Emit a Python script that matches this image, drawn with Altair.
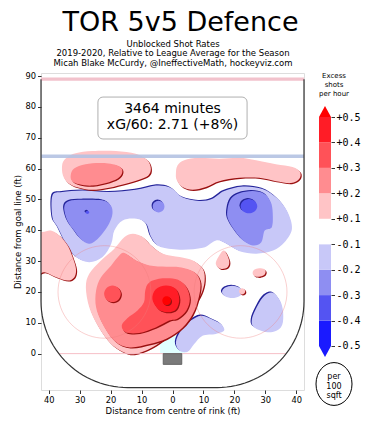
import json
import numpy as np
import pandas as pd
import altair as alt

FONT = "DejaVu Sans"
MONO = "DejaVu Sans Mono"

# ---------------- text ----------------
title_text = "TOR 5v5 Defence"
subtitle_lines = [
    "Unblocked Shot Rates",
    "2019-2020, Relative to League Average for the Season",
    "Micah Blake McCurdy, @IneffectiveMath, hockeyviz.com",
]
toi_minutes = 3464
xg_per_60 = 2.71
xg_rel_pct = 8
box_lines = [f"{toi_minutes} minutes", f"xG/60: {xg_per_60:.2f} (+{xg_rel_pct}%)"]
cbar_title = ["Excess", "shots", "per hour"]
area_note = ["per", "100", "sqft"]
x_title = "Distance from centre of rink (ft)"
y_title = "Distance from goal line (ft)"

# ---------------- levels / colours ----------------
levels = [-4, -3, -2, -1, 1, 2, 3, 4, 5]
level_colors = ["#1a1aff", "#5454f2", "#8e8ef2", "#c8c8f8",
                "#ffc4c6", "#ff8c90", "#ff5258", "#ff1c26", "#ff0000"]
cbar_labels = ["-0.5", "-0.4", "-0.3", "-0.2", "-0.1",
               "+0.1", "+0.2", "+0.3", "+0.4", "+0.5"]
cbar_colors = ["#1a1aff", "#5454f2", "#8e8ef2", "#c8c8f8", "#ffffff",
               "#ffc4c6", "#ff8c90", "#ff5258", "#ff1c26"]

# ---------------- contour regions (ft) ----------------
red_tl1_x = [-35.6, -34.0, -31.3, -25.9, -18.3, -11.9, -8.1, -7.0, -7.8, -10.8, -15.1, -20.5, -25.9, -30.2, -33.4, -35.4]
red_tl1_y = [61.6, 63.7, 65.0, 65.7, 65.7, 64.8, 62.7, 60.0, 57.8, 56.4, 55.1, 53.8, 53.1, 53.8, 55.1, 57.8]

red_tl2_x = [-32.9, -31.8, -28.1, -22.7, -17.8, -16.2, -17.2, -20.5, -25.9, -30.2, -32.4]
red_tl2_y = [57.8, 60.0, 61.4, 61.8, 61.0, 59.4, 57.2, 55.6, 54.5, 54.9, 55.9]

red_tr1_x = [1.1, 1.6, 3.8, 8.6, 15.1, 21.6, 27.0, 33.4, 38.8, 41.2, 41.0, 38.3, 33.4, 28.0, 21.6, 15.1, 10.8, 6.5, 3.2, 1.4]
red_tr1_y = [58.3, 61.0, 62.7, 63.5, 63.2, 63.5, 62.7, 61.4, 60.5, 58.9, 56.7, 55.3, 55.9, 57.0, 57.0, 55.9, 54.0, 53.1, 54.0, 56.2]

blue_top1_x = [-38.8, -35.6, -29.1, -20.5, -11.9, -5.4, -0.6, 3.2, 8.6, 12.9, 16.7, 22.7, 29.1, 34.0, 37.2, 38.6,
               36.2, 32.5, 27.1, 21.7, 17.4, 14.1, 9.8, 2.3, -4.2, -6.9, -8.5, -11.7, -16.1, -18.8, -19.8, -22.6,
               -26.9, -31.2, -34.4, -37.1, -38.8]
blue_top1_y = [51.3, 52.4, 52.9, 52.4, 53.1, 54.5, 53.8, 50.7, 49.5, 50.2, 52.7, 54.2, 53.4, 50.2, 45.9, 40.5,
               36.1, 33.4, 32.4, 33.2, 35.6, 36.7, 34.3, 33.7, 34.7, 37.8, 42.1, 43.7, 43.2, 39.9, 35.6, 31.3,
               29.6, 31.3, 35.6, 41.0, 44.2]

blue_left2_x = [-35.0, -33.4, -29.1, -22.7, -20.0, -19.4, -20.5, -22.7, -24.8, -27.0, -29.7, -31.8, -34.0]
blue_left2_y = [47.5, 49.5, 49.9, 49.7, 48.1, 45.4, 42.1, 38.9, 36.7, 35.6, 37.2, 39.9, 43.2]

blue_mid2_x = [-4.5, -3.1, -2.6, -3.1, -4.5, -5.9, -6.4, -5.9]
blue_mid2_y = [49.6, 49.0, 47.7, 46.4, 45.8, 46.4, 47.7, 49.0]

blue_right2_x = [17.8, 18.9, 21.6, 25.9, 29.7, 31.8, 32.4, 32.1, 29.8, 28.7, 26.0, 22.8, 20.1, 17.9]
blue_right2_y = [47.0, 50.2, 52.0, 52.7, 51.8, 49.1, 45.4, 41.0, 39.9, 36.1, 35.1, 36.7, 39.9, 43.7]

blue_right3_x = [24.7, 26.6, 27.4, 26.6, 24.7, 22.8, 22.0, 22.8]
blue_right3_y = [50.1, 49.4, 47.8, 46.2, 45.5, 46.2, 47.8, 49.4]

blue_left3_x = [-27.5, -26.9, -27.5, -28.1]
blue_left3_y = [46.3, 45.8, 45.3, 45.8]

red_edge1_x = [-45.0, -42.0, -39.3, -36.6, -33.9, -32.3, -31.2, -31.7, -33.9, -37.6, -41.4, -45.0]
red_edge1_y = [39.4, 39.4, 39.9, 38.3, 35.1, 31.3, 27.5, 24.8, 23.7, 24.8, 26.4, 26.0]

red_slot1_x = [-12.8, -9.6, -6.9, -3.1, 2.3, 6.6, 9.8, 10.4, 9.3, 6.6, 3.3, 0.5, -3.5, -7.5, -12.5, -16.5,
               -20.4, -24.2, -26.9, -28.0, -26.9, -23.1, -18.8, -15.5]
red_slot1_y = [38.9, 37.8, 35.1, 32.4, 31.3, 30.2, 27.5, 23.7, 19.4, 15.0, 10.7, 7.5, 4.0, 1.5, -0.2, 0.8,
               3.7, 9.1, 15.0, 21.5, 25.9, 30.2, 34.0, 37.8]

red_slot2_x = [-15.5, -11.7, -7.4, -2.0, 2.3, 7.1, 9.0, 8.5, 6.6, 3.3, -2.0, -7.4, -13.9, -18.8, -22.6, -24.7,
               -24.7, -23.1, -19.8, -17.2]
red_slot2_y = [32.6, 30.2, 28.6, 28.2, 28.0, 26.4, 23.1, 18.3, 12.9, 8.5, 4.8, 3.1, 2.0, 4.2, 9.6, 15.0,
               20.5, 24.8, 28.6, 31.8]

red_slot3_x = [-7.5, -3.2, 1.6, 4.5, 5.6, 4.5, 1.6, -1.1, -5.4, -10.8, -15.1, -16.4, -14.6, -11.3, -9.2, -8.8]
red_slot3_y = [23.1, 24.4, 24.0, 21.5, 17.7, 14.0, 11.3, 10.7, 8.5, 6.7, 6.9, 9.1, 11.5, 14.0, 16.7, 20.5]

red_dot3_x = [-19.4, -17.5, -16.7, -17.5, -19.4, -21.3, -22.1, -21.3]
red_dot3_y = [22.1, 21.3, 19.4, 17.5, 16.7, 17.5, 19.4, 21.3]

red_slot4_x = [-2.1, 1.0, 2.2, 1.2, -1.5, -4.6, -6.5, -5.4]
red_slot4_y = [22.1, 21.0, 17.7, 14.4, 13.4, 14.4, 17.7, 20.9]

red_slot5_x = [-1.9, -0.9, -0.5, -0.9, -1.9, -2.9, -3.3, -2.9]
red_slot5_y = [18.6, 18.2, 17.2, 16.2, 15.8, 16.2, 17.2, 18.2]

red_drop1_x = [16.7, 18.3, 17.8, 15.6, 14.0, 15.1]
red_drop1_y = [33.4, 30.2, 28.0, 27.5, 29.1, 31.8]

red_oval1_x = [28.0, 29.6, 30.1, 29.5, 28.0, 26.5, 25.9, 26.4]
red_oval1_y = [27.7, 27.4, 26.5, 25.4, 24.9, 25.2, 26.1, 27.2]

blue_oval1_x = [19.3, 21.6, 22.6, 21.6, 19.3, 17.0, 16.0, 17.0]
blue_oval1_y = [22.0, 21.4, 20.0, 18.6, 18.0, 18.6, 20.0, 21.4]

red_pip1_x = [22.5, 23.2, 23.5, 23.2, 22.5, 21.8, 21.5, 21.8]
red_pip1_y = [21.2, 20.9, 20.2, 19.5, 19.2, 19.5, 20.2, 20.9]

blue_corner1_x = [32.4, 35.0, 35.8, 35.0, 31.3, 26.4, 25.7, 27.5, 29.7]
blue_corner1_y = [19.7, 16.7, 12.3, 8.5, 6.9, 8.5, 11.3, 15.6, 18.8]

blue_hook1_x = [5.9, 9.2, 12.4, 15.6, 16.7, 14.0, 9.7, 7.0, 4.9, 2.2, 1.1, 2.7]
blue_hook1_y = [10.7, 12.3, 11.3, 9.6, 7.5, 6.4, 5.8, 3.1, 0.6, 1.0, 3.7, 7.5]

regions = [
    ("blue_top", -1, blue_top1_x, blue_top1_y),
    ("blue_oval", -1, blue_oval1_x, blue_oval1_y),
    ("blue_corner", -1, blue_corner1_x, blue_corner1_y),
    ("blue_hook", -1, blue_hook1_x, blue_hook1_y),
    ("blue_left2", -2, blue_left2_x, blue_left2_y),
    ("blue_mid2", -2, blue_mid2_x, blue_mid2_y),
    ("blue_right2", -2, blue_right2_x, blue_right2_y),
    ("blue_right3", -3, blue_right3_x, blue_right3_y),
    ("blue_left3", -3, blue_left3_x, blue_left3_y),
    ("red_tl1", 1, red_tl1_x, red_tl1_y),
    ("red_tr1", 1, red_tr1_x, red_tr1_y),
    ("red_edge1", 1, red_edge1_x, red_edge1_y),
    ("red_slot1", 1, red_slot1_x, red_slot1_y),
    ("red_drop1", 1, red_drop1_x, red_drop1_y),
    ("red_oval1", 1, red_oval1_x, red_oval1_y),
    ("red_pip1", 1, red_pip1_x, red_pip1_y),
    ("red_tl2", 2, red_tl2_x, red_tl2_y),
    ("red_slot2", 2, red_slot2_x, red_slot2_y),
    ("red_slot3", 3, red_slot3_x, red_slot3_y),
    ("red_dot3", 3, red_dot3_x, red_dot3_y),
    ("red_slot4", 4, red_slot4_x, red_slot4_y),
    ("red_slot5", 5, red_slot5_x, red_slot5_y),
]
draw_order = [-1, -2, -3, 1, 2, 3, 4, 5]

# ---------------- rink geometry (ft) ----------------
rink_half_width = 42.5
corner_radius = 28.0
goal_to_end = 11.0
blue_line_y = 64.0
red_line_y = 89.0
faceoff_xs = [-22.0, 22.0]
faceoff_y = 20.0
faceoff_r = 15.0
crease_r = 6.0
crease_half = 4.0
net_half = 3.0
net_depth = 3.5
box_x = [-24.1, 24.1]
box_y = [69.6, 83.2]
box_text_y = [77.9, 72.7]

# ---------------- layout (px) ----------------
W, H = 263, 317
XS = alt.Scale(domain=[-42.5, 42.5], nice=False, zero=False)
YS = alt.Scale(domain=[-11.8, 91.0], nice=False, zero=False)
CB = alt.Scale(domain=[-1.73, 10.73], nice=False, zero=False)
SH = 0.35


def PX(field, **kw):
    return alt.X(field, scale=XS, title=x_title, **kw)


def PY(field, **kw):
    return alt.Y(field, scale=YS, title=y_title, **kw)


rows = []
for pid, lvl, xs, ys in regions:
    for i, (x, y) in enumerate(zip(xs, ys)):
        rows.append({"pid": pid, "lvl": lvl, "i": i, "x": x, "y": y})
cdf = pd.DataFrame(rows)
fill_scale = alt.Scale(domain=levels, range=level_colors)

main_layers = []

# boards (carry the axes)
cx = rink_half_width - corner_radius
cy = corner_radius - goal_to_end
t1 = np.linspace(np.pi, 1.5 * np.pi, 30)
t2 = np.linspace(1.5 * np.pi, 2 * np.pi, 30)
bx = [-rink_half_width] + list(-cx + corner_radius * np.cos(t1)) + list(cx + corner_radius * np.cos(t2)) + [rink_half_width]
by = [red_line_y] + list(cy + corner_radius * np.sin(t1)) + list(cy + corner_radius * np.sin(t2)) + [red_line_y]
boards_df = pd.DataFrame({"x": bx, "y": by, "i": range(len(bx))})
boards = alt.Chart(boards_df).mark_line(color="#333333", strokeWidth=1.2).encode(
    x=PX("x:Q", axis=alt.Axis(values=list(range(-40, 41, 10)), tickCount=40, labelOverlap=False,
                              labelExpr="abs(datum.value)", titlePadding=3)),
    y=PY("y:Q", axis=alt.Axis(values=list(range(0, 91, 10)), tickCount=40, labelOverlap=False,
                              titlePadding=2)),
    order="i:Q")

# crease
cang = np.linspace(np.arccos(crease_half / crease_r), np.pi - np.arccos(crease_half / crease_r), 15)
crease_df = pd.DataFrame({
    "x": [crease_half] + list(crease_r * np.cos(cang)) + [-crease_half],
    "y": [0.0] + list(crease_r * np.sin(cang)) + [0.0],
})
crease_df["i"] = range(len(crease_df))
main_layers.append(alt.Chart(crease_df).mark_line(interpolate="linear-closed", filled=True, color="#e0ffff",
                                                   strokeWidth=0).encode(
    x=PX("x:Q"), y=PY("y:Q"), order="i:Q"))

# contours
for lvl in draw_order:
    sub = cdf[cdf.lvl == lvl]
    sg = 1 if lvl > 0 else -1
    shadow_col = "#9a1010" if sg > 0 else "#24249a"
    main_layers.append(
        alt.Chart(sub).transform_calculate(sx=f"datum.x + {sg * SH}", sy=f"datum.y - {sg * SH}")
        .mark_line(interpolate="cardinal-closed", filled=True, color=shadow_col, strokeWidth=0, clip=True)
        .encode(x=PX("sx:Q"), y=PY("sy:Q"), detail="pid:N", order="i:Q"))
    main_layers.append(
        alt.Chart(sub).mark_line(interpolate="cardinal-closed", filled=True, strokeWidth=0, clip=True)
        .encode(x=PX("x:Q"), y=PY("y:Q"),
                color=alt.Color("lvl:O", scale=fill_scale, legend=None),
                detail="pid:N", order="i:Q"))

# faceoff circles
t = np.linspace(0, 2 * np.pi, 73)
circ_rows = []
for k, fx in enumerate(faceoff_xs):
    for i, a in enumerate(t):
        circ_rows.append({"cid": k, "i": i, "x": fx + faceoff_r * np.cos(a), "y": faceoff_y + faceoff_r * np.sin(a)})
main_layers.append(alt.Chart(pd.DataFrame(circ_rows)).mark_line(color="#ee7b7b", strokeWidth=0.8, opacity=0.45)
                   .encode(x=PX("x:Q"), y=PY("y:Q"), detail="cid:N", order="i:Q"))

# goal line, blue line, red line
gx = cx + np.sqrt(corner_radius ** 2 - cy ** 2)
lines_df = pd.DataFrame({"x": [-gx, -rink_half_width, -rink_half_width], "x2": [gx, rink_half_width, rink_half_width],
                         "y": [0.0, blue_line_y, red_line_y], "kind": ["goal", "blue", "red"]})
for kind, col, wdt, op in [("goal", "#f4b8c0", 0.9, 1.0), ("blue", "#b4c2e2", 3.3, 0.9), ("red", "#f2c2cc", 3.3, 1.0)]:
    main_layers.append(alt.Chart(lines_df[lines_df.kind == kind]).mark_rule(color=col, strokeWidth=wdt, opacity=op)
                       .encode(x=PX("x:Q"), x2="x2:Q", y=PY("y:Q")))

main_layers.append(boards)

# goal net
net_df = pd.DataFrame({"x": [-net_half], "x2": [net_half], "y": [-net_depth], "y2": [0.0]})
main_layers.append(alt.Chart(net_df).mark_rect(color="#7a7a7a", stroke="#555555", strokeWidth=0.8).encode(
    x=PX("x:Q"), x2="x2:Q", y=PY("y:Q"), y2="y2:Q"))

# annotation box
bdf = pd.DataFrame({"x": [box_x[0]], "x2": [box_x[1]], "y": [box_y[0]], "y2": [box_y[1]]})
main_layers.append(alt.Chart(bdf).mark_rect(fill="white", stroke="#b0b0b0", strokeWidth=1, cornerRadius=5).encode(
    x=PX("x:Q"), x2="x2:Q", y=PY("y:Q"), y2="y2:Q"))
tdf = pd.DataFrame({"t": box_lines, "x": [0.0, 0.0], "y": box_text_y})
main_layers.append(alt.Chart(tdf).mark_text(font=FONT, fontSize=14, color="#000", baseline="alphabetic",
                                            align="center").encode(
    x=PX("x:Q"), y=PY("y:Q"), text="t:N"))

# titles (pixel placement relative to plot area)
main_layers.append(alt.Chart(pd.DataFrame({"t": [title_text]})).mark_text(
    font=FONT, fontSize=27, color="#000", align="center", baseline="alphabetic").encode(
    text="t:N", x=alt.value(139.5), y=alt.value(-42.5)))
for line, py in zip(subtitle_lines, [-26, -17, -7.5]):
    main_layers.append(alt.Chart(pd.DataFrame({"t": [line]})).mark_text(
        font=FONT, fontSize=8.5, color="#000", align="center", baseline="alphabetic").encode(
        text="t:N", x=alt.value(132), y=alt.value(py)))

main = alt.layer(*main_layers)

# ---------------- colour bar ----------------
cb_df = pd.DataFrame({"lo": list(range(9)), "hi": list(range(1, 10)), "c": cbar_colors})
label_expr = json.dumps(cbar_labels) + "[datum.value]"
cb_layers = [
    alt.Chart(cb_df).mark_rect(strokeWidth=0).encode(
        x=alt.value(278), x2=alt.value(290),
        y=alt.Y("lo:Q", scale=CB, title=None,
                axis=alt.Axis(orient="right", offset=27, values=list(range(10)), tickCount=40,
                              labelOverlap=False, labelExpr=label_expr, labelFont=MONO, labelFontSize=10,
                              labelPadding=1.5, title=None)),
        y2="hi:Q", fill=alt.Fill("c:N", scale=None)),
    alt.Chart(pd.DataFrame({"lo": [9]})).mark_point(shape="M-1,0L1,0L0,-1.85Z", size=144, filled=True,
                                                    color=level_colors[-1], opacity=1, strokeWidth=0).encode(
        x=alt.value(284), y=alt.Y("lo:Q", scale=CB, title=None)),
    alt.Chart(pd.DataFrame({"lo": [0]})).mark_point(shape="M-1,0L1,0L0,1.85Z", size=144, filled=True,
                                                    color=level_colors[0], opacity=1, strokeWidth=0).encode(
        x=alt.value(284), y=alt.Y("lo:Q", scale=CB, title=None)),
]
for line, py in zip(cbar_title, [2.5, 11.5, 20.5]):
    cb_layers.append(alt.Chart(pd.DataFrame({"t": [line]})).mark_text(
        font=FONT, fontSize=7, color="#000", align="center", baseline="middle").encode(
        text="t:N", x=alt.value(293), y=alt.value(py)))
cb_layers.append(alt.Chart(pd.DataFrame({"v": [0]})).mark_point(
    shape="M-1,0A1,1.19 0 1,0 1,0A1,1.19 0 1,0 -1,0Z", size=1296, filled=False, stroke="#000",
    strokeWidth=1, opacity=1).encode(x=alt.value(293), y=alt.value(311)))
for line, py in zip(area_note, [304, 313.5, 323]):
    cb_layers.append(alt.Chart(pd.DataFrame({"t": [line]})).mark_text(
        font=FONT, fontSize=8, color="#000", align="center", baseline="middle").encode(
        text="t:N", x=alt.value(293), y=alt.value(py)))

cbar = alt.layer(*cb_layers)

chart = alt.layer(main, cbar).resolve_scale(y="independent").properties(
    width=W, height=H,
    autosize=alt.AutoSizeParams(type="none"),
    padding={"left": 33, "top": 65, "right": 60, "bottom": 31},
).configure_view(stroke=None).configure(font=FONT, background="white").configure_axis(
    domain=False, grid=False, ticks=True, tickSize=3.5, tickColor="#000", tickWidth=0.8,
    labelFont=FONT, labelFontSize=8.3, labelColor="#000", labelPadding=2,
    labelOverlap=False, labelFlush=False, labelBound=False,
    titleFont=FONT, titleFontSize=8.5, titleFontWeight="normal", titleColor="#000")

chart.save("out.html", embed_options={"renderer": "svg", "actions": False})
